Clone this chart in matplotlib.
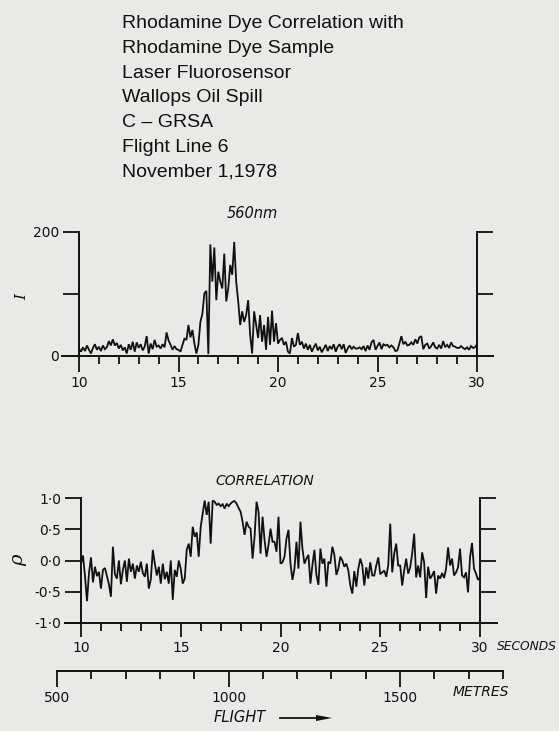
import numpy as np
import matplotlib
matplotlib.use("Agg")
import matplotlib.pyplot as plt
from matplotlib.ticker import FixedLocator, MultipleLocator, NullFormatter

# ---- data -------------------------------------------------------------
title_lines = [
    "Rhodamine Dye Correlation with",
    "Rhodamine Dye Sample",
    "Laser Fluorosensor",
    "Wallops Oil Spill",
    "C – GRSA",
    "Flight Line 6",
    "November 1,1978",
]

# fluorescence intensity at 560 nm, sampled every 0.1 s from 10 s to 30 s
intensity = [
    12, 7, 14, 8, 17, 10, 4, 13, 19, 10,
    15, 8, 17, 11, 14, 24, 17, 27, 17, 21,
    12, 18, 9, 14, 4, 19, 10, 23, 7, 22,
    13, 19, 9, 15, 32, 4, 20, 11, 26, 15,
    17, 12, 19, 14, 38, 25, 18, 10, 16, 11,
    10, 7, 18, 28, 26, 50, 30, 42, 20, 4,
    18, 55, 68, 101, 105, 3, 180, 120, 175, 90,
    136, 120, 109, 165, 88, 109, 147, 131, 184, 120,
    88, 50, 72, 55, 66, 90, 34, 4, 72, 50,
    29, 66, 23, 50, 10, 63, 18, 73, 23, 53,
    20, 26, 29, 18, 23, 7, 4, 29, 15, 18,
    37, 18, 23, 12, 20, 10, 18, 7, 14, 20,
    9, 15, 6, 12, 18, 8, 16, 11, 19, 7,
    15, 19, 11, 19, 5, 12, 17, 11, 15, 12,
    12, 14, 11, 16, 8, 17, 10, 22, 26, 10,
    16, 22, 11, 19, 17, 18, 14, 17, 14, 8,
    9, 20, 32, 19, 23, 17, 18, 22, 18, 27,
    20, 30, 32, 11, 18, 20, 12, 16, 22, 14,
    12, 18, 12, 24, 14, 18, 13, 22, 16, 15,
    13, 13, 16, 13, 11, 14, 10, 16, 13, 14,
    19,
]

# correlation coefficient with the dye sample spectrum, same sampling
correlation = [
    -0.05, 0.08, -0.25, -0.65, -0.20, 0.05, -0.35, -0.10, -0.25, -0.18,
    -0.45, -0.15, -0.12, -0.25, -0.38, -0.58, 0.22, -0.22, -0.29, 0.00,
    -0.38, -0.15, 0.00, -0.34, 0.03, -0.18, -0.05, -0.29, -0.08, -0.18,
    -0.02, -0.20, -0.26, -0.05, -0.45, -0.30, 0.17, -0.05, -0.24, -0.10,
    -0.37, -0.05, -0.30, -0.18, -0.37, 0.00, -0.63, -0.15, -0.26, 0.00,
    -0.13, -0.37, -0.29, 0.17, 0.27, 0.06, 0.54, 0.38, 0.45, 0.06,
    0.54, 0.75, 0.96, 0.73, 0.94, 0.27, 0.96, 0.94, 0.89, 0.91,
    0.87, 0.90, 0.83, 0.91, 0.87, 0.91, 0.94, 0.95, 0.91, 0.84,
    0.78, 0.62, 0.41, 0.62, 0.54, 0.51, 0.03, 0.38, 0.94, 0.78,
    0.11, 0.70, 0.33, 0.06, 0.25, 0.51, 0.30, 0.30, 0.14, 0.70,
    -0.05, -0.03, 0.06, 0.35, 0.49, -0.05, -0.31, -0.13, 0.30, -0.13,
    0.62, 0.19, -0.05, 0.03, 0.09, -0.37, -0.07, 0.17, -0.23, -0.39,
    0.19, -0.05, 0.03, -0.42, -0.02, -0.05, 0.22, 0.09, -0.23, -0.13,
    0.06, 0.00, -0.10, -0.05, -0.16, -0.40, -0.53, -0.17, -0.42, -0.13,
    0.03, -0.08, -0.40, -0.11, -0.29, -0.03, -0.24, -0.24, -0.08, 0.05,
    -0.22, -0.19, -0.16, -0.26, -0.08, 0.59, -0.19, 0.11, 0.27, -0.08,
    -0.08, -0.40, -0.16, 0.03, -0.21, -0.11, 0.11, 0.43, -0.27, -0.08,
    -0.27, 0.13, -0.03, -0.60, -0.10, -0.29, -0.24, -0.17, -0.53, -0.24,
    -0.29, -0.20, -0.28, -0.13, 0.21, -0.08, 0.03, -0.24, -0.19, -0.11,
    0.19, -0.24, -0.27, -0.19, -0.51, 0.05, 0.28, -0.13, -0.21, -0.31,
    -0.27,
]

t_start, t_end = 10, 30
seconds_ticks = [10, 15, 20, 25, 30]
intensity_ticks = [0, 100, 200]
intensity_labels = ["0", "", "200"]
rho_ticks = [-1.0, -0.5, 0.0, 0.5, 1.0]
rho_labels = ["-1·0", "-0·5", "0·0", "0·5", "1·0"]
metres_range = (500, 1800)
metres_ticks = [500, 1000, 1500]

# ---- styling ----------------------------------------------------------
W, H, DPI = 559, 731, 100
BG = "#e9e9e7"
INK = "#111111"
PT = 72.0 / DPI  # points per pixel
TICK_FS = 10

plt.rcParams["font.family"] = ["DejaVu Sans"]

fig = plt.figure(figsize=(W / DPI, H / DPI), dpi=DPI, facecolor=BG)


def px_axes(x0, x1, y_top, y_bot):
    """Axes whose box is given in pixel coordinates (origin top-left)."""
    ax = fig.add_axes([x0 / W, 1 - y_bot / H, (x1 - x0) / W, (y_bot - y_top) / H])
    ax.set_facecolor("none")
    return ax


def fig_text(x, y, s, **kw):
    kw.setdefault("color", INK)
    fig.text(x / W, 1 - y / H, s, **kw)


def style_panel(ax, xlim, ylim, yticks, ylabels, right_ticks, xtick_len):
    ax.set_xlim(*xlim)
    ax.set_ylim(*ylim)
    ax.spines["top"].set_visible(False)
    for side in ("left", "right", "bottom"):
        ax.spines[side].set_linewidth(1.4)
        ax.spines[side].set_color(INK)
    ax.spines["left"].set_position(("data", t_start))
    ax.spines["right"].set_position(("data", t_end))
    ax.spines["left"].set_bounds(*ylim)
    ax.spines["right"].set_bounds(*ylim)

    ax.xaxis.set_major_locator(FixedLocator(seconds_ticks))
    ax.xaxis.set_minor_locator(MultipleLocator(1))
    ax.xaxis.set_minor_formatter(NullFormatter())
    ax.tick_params(axis="x", which="major", direction="out",
                   length=xtick_len * PT, width=1.3, color=INK, pad=4 * PT,
                   labelsize=TICK_FS, labelcolor=INK)
    ax.tick_params(axis="x", which="minor", direction="out", length=7.5 * PT,
                   width=1.3, color=INK)

    ax.set_yticks(yticks)
    ax.set_yticklabels(ylabels)
    ax.yaxis.set_ticks_position("both")
    ax.tick_params(axis="y", which="major", direction="out", length=16 * PT,
                   width=1.3, color=INK, pad=4 * PT, labelsize=TICK_FS,
                   labelcolor=INK, right=True, labelright=False)
    # right-hand ticks only at the listed values
    for tk, val in zip(ax.yaxis.get_major_ticks(), yticks):
        tk.tick2line.set_visible(val in right_ticks)


# ---- title block ------------------------------------------------------
for i, line in enumerate(title_lines):
    fig_text(122, 28 + 24.8 * i, line, family="Liberation Sans", fontsize=14,
             ha="left", va="baseline")

# ---- intensity panel --------------------------------------------------
times_i = np.linspace(t_start, t_end, len(intensity))
sec_px = 19.9
ax1 = px_axes(62, 493, 232, 356)
ax1.plot(times_i, intensity, color=INK, lw=1.3, solid_joinstyle="miter")
style_panel(ax1, (t_start - 17 / sec_px, t_end + 16 / sec_px), (0, 200),
            intensity_ticks, intensity_labels, [100, 200], 16)
fig_text(22, 297, "I", family="DejaVu Serif", style="italic", fontsize=11,
         rotation=90, ha="center", va="center")
fig_text(252, 218, "560nm", style="italic", fontsize=10.5, ha="center",
         va="baseline")

# ---- correlation panel ------------------------------------------------
times_c = np.linspace(t_start, t_end, len(correlation))
sec_px2 = 19.95
ax2 = px_axes(65, 497, 498, 623)
ax2.plot(times_c, correlation, color=INK, lw=1.3, solid_joinstyle="miter")
style_panel(ax2, (t_start - 16 / sec_px2, t_end + 17 / sec_px2), (-1, 1),
            rho_ticks, rho_labels, [-0.5, 0.0, 0.5, 1.0], 14)
fig_text(18, 560, "ρ", family="DejaVu Serif", style="italic", fontsize=14,
         rotation=90, ha="center", va="center")
fig_text(265, 485, "CORRELATION", style="italic", fontsize=10, ha="center",
         va="baseline")
fig_text(497, 650, "SECONDS", style="italic", fontsize=8.8, ha="left",
         va="baseline")

# ---- distance scale ---------------------------------------------------
ax3 = px_axes(57, 503, 660, 671)
ax3.set_xlim(*metres_range)
ax3.set_ylim(0, 1)
ax3.set_yticks([])
for side in ("left", "right", "top"):
    ax3.spines[side].set_visible(False)
ax3.spines["bottom"].set_linewidth(1.4)
ax3.spines["bottom"].set_color(INK)
ax3.xaxis.set_major_locator(FixedLocator(metres_ticks))
ax3.xaxis.set_minor_locator(MultipleLocator(100))
ax3.tick_params(axis="x", which="major", direction="out", length=16 * PT,
                width=1.3, color=INK, pad=4 * PT, labelsize=TICK_FS,
                labelcolor=INK)
ax3.tick_params(axis="x", which="minor", direction="out", length=8 * PT,
                width=1.3, color=INK)
fig_text(453, 696, "METRES", style="italic", fontsize=10, ha="left",
         va="baseline")
fig_text(214, 722, "FLIGHT", style="italic", fontsize=10.5, ha="left",
         va="baseline")
fig.add_artist(plt.Line2D([280 / W, 318 / W], [1 - 718 / H, 1 - 718 / H],
                          color=INK, lw=1.3))
fig.add_artist(plt.Polygon([[316 / W, 1 - 715 / H], [332 / W, 1 - 718 / H],
                            [316 / W, 1 - 721 / H]], closed=True,
                           color=INK, lw=0))

fig.savefig("out.png", dpi=DPI, facecolor=BG)
